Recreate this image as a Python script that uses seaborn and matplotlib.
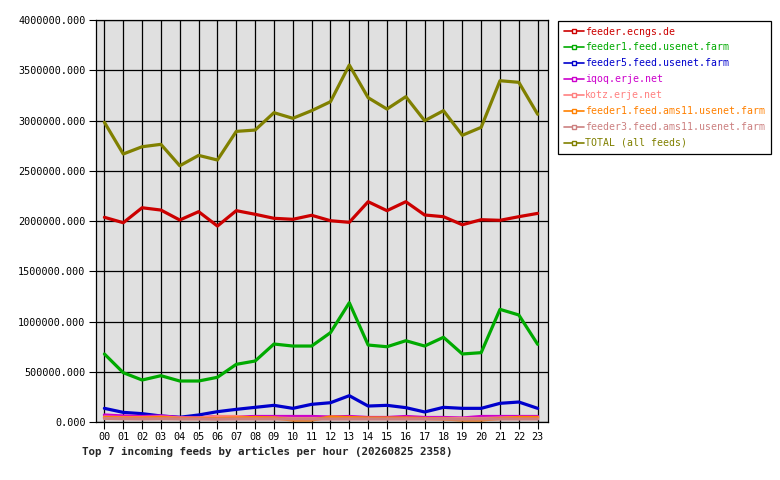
"""
plot.py - Top 7 incoming feeds by articles per hour.
"""

import matplotlib
matplotlib.use("Agg")
import pandas as pd
import matplotlib.pyplot as plt
import seaborn as sns
from matplotlib.lines import Line2D

hours = [f"{h:02d}" for h in range(24)]

feeds = [
    "feeder.ecngs.de",
    "feeder1.feed.usenet.farm",
    "feeder5.feed.usenet.farm",
    "iqoq.erje.net",
    "kotz.erje.net",
    "feeder1.feed.ams11.usenet.farm",
    "feeder3.feed.ams11.usenet.farm",
    "TOTAL (all feeds)",
]

colors = ["#cc0000", "#00aa00", "#0000cc", "#cc00cc",
          "#ff8080", "#ff8000", "#cc8080", "#808000"]

ecngs = [2037000, 1983000, 2132000, 2109000, 2010000, 2093000, 1950000, 2103000,
         2067000, 2027000, 2017000, 2057000, 2003000, 1987000, 2192000, 2103000,
         2192000, 2060000, 2043000, 1963000, 2013000, 2007000, 2043000, 2076000]
usenet1 = [677000, 491000, 418000, 461000, 408000, 408000, 445000, 574000,
           607000, 776000, 756000, 756000, 889000, 1187000, 766000, 749000,
           809000, 756000, 843000, 677000, 690000, 1121000, 1065000, 773000]
usenet5 = [136000, 96000, 83000, 60000, 47000, 70000, 103000, 126000,
           146000, 166000, 136000, 176000, 192000, 262000, 159000, 166000,
           143000, 100000, 146000, 136000, 136000, 186000, 199000, 136000]
iqoq = [70000, 60000, 55000, 60000, 45000, 40000, 55000, 50000,
        55000, 55000, 55000, 55000, 50000, 55000, 45000, 45000,
        55000, 45000, 45000, 40000, 55000, 55000, 55000, 55000]
kotz = [50000, 45000, 45000, 50000, 40000, 40000, 55000, 55000,
        40000, 40000, 35000, 35000, 35000, 35000, 35000, 35000,
        35000, 35000, 35000, 35000, 35000, 40000, 45000, 45000]
ams11_1 = [45000, 40000, 40000, 45000, 35000, 35000, 35000, 40000,
           45000, 40000, 20000, 20000, 50000, 45000, 40000, 40000,
           40000, 35000, 30000, 20000, 20000, 35000, 45000, 45000]
ams11_3 = [35000, 32000, 30000, 32000, 30000, 30000, 28000, 30000,
           30000, 30000, 30000, 30000, 30000, 30000, 30000, 30000,
           30000, 30000, 30000, 28000, 30000, 30000, 30000, 30000]
total = [2982000, 2667000, 2739000, 2763000, 2550000, 2653000, 2607000, 2892000,
         2905000, 3078000, 3022000, 3098000, 3187000, 3552000, 3227000, 3114000,
         3237000, 2998000, 3098000, 2853000, 2932000, 3396000, 3380000, 3062000]

series = [ecngs, usenet1, usenet5, iqoq, kotz, ams11_1, ams11_3, total]


def make_chart() -> None:
    df = pd.DataFrame({name: vals for name, vals in zip(feeds, series)})
    df["hour"] = range(24)
    long_df = df.melt(id_vars="hour", var_name="feed", value_name="articles")

    sns.set_style("ticks", {"axes.facecolor": "#e0e0e0",
                            "axes.edgecolor": "black",
                            "xtick.color": "black",
                            "ytick.color": "black"})
    plt.rcParams["font.family"] = ["DejaVu Sans Mono"]

    fig = plt.figure(figsize=(7.8, 4.8), dpi=100)
    ax = fig.add_axes([0.123, 0.1208, 0.5796, 0.8375])

    sns.lineplot(data=long_df, x="hour", y="articles", hue="feed",
                 hue_order=feeds, palette=dict(zip(feeds, colors)),
                 linewidth=2.3, legend=False, ax=ax)

    ax.set_xlim(-0.45, 23.55)
    ax.set_ylim(0, 4000000)
    ax.set_xticks(range(24))
    ax.set_xticklabels(hours)
    ax.set_yticks(range(0, 4000001, 500000))
    ax.set_yticklabels([f"{v:.3f}" for v in range(0, 4000001, 500000)])
    ax.tick_params(axis="both", labelsize=7.3, length=5, width=0.8,
                   direction="out", pad=2.5)
    ax.grid(True, color="black", linewidth=0.9)
    ax.set_axisbelow(True)
    for sp in ax.spines.values():
        sp.set_linewidth(0.9)
    ax.set(xlabel="", ylabel="")

    handles = [Line2D([0], [0], color=c, linewidth=1.2, marker="s",
                      markersize=3, markerfacecolor="white",
                      markeredgecolor=c) for c in colors]
    leg = fig.legend(handles, feeds, loc="upper left",
                     bbox_to_anchor=(0.7155, 0.957), fontsize=7.1,
                     frameon=True, fancybox=False, edgecolor="black",
                     facecolor="white", framealpha=1,
                     handlelength=2.0, handletextpad=0.15,
                     labelspacing=0.6, borderpad=0.6, borderaxespad=0,
                     labelcolor="linecolor")
    leg.get_frame().set_linewidth(0.9)

    fig.text(0.105, 0.058, "Top 7 incoming feeds by articles per hour (20260825 2358)",
             fontsize=7.8, fontweight="bold", ha="left", va="center")

    fig.savefig("out.png", dpi=100)
    plt.close(fig)


if __name__ == "__main__":
    make_chart()
